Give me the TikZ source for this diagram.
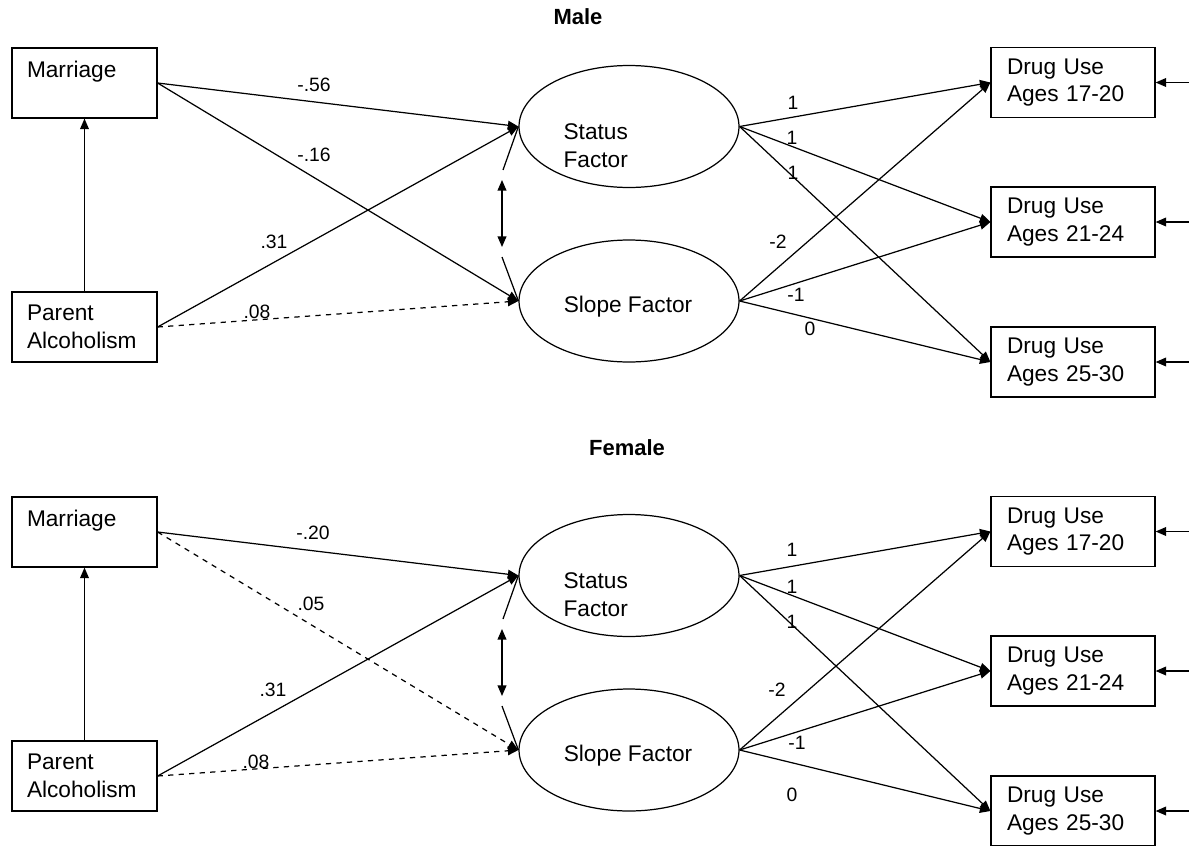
\documentclass[tikz,border=0pt]{standalone}
\usepackage{fontspec}
\setmainfont{Liberation Sans}
\usetikzlibrary{shapes.geometric,arrows.meta}

\begin{document}
\begin{tikzpicture}[x=0.02cm, y=-0.02cm, line width=0.7pt,
    >={Triangle[length=6pt,width=5pt]},
    obs/.style={draw, rectangle, inner xsep=0.3cm, inner ysep=0pt, text width=2.3cm,
      minimum height=1.4cm, align=left, font=\fontsize{12.9}{15.8}\selectfont},
    dru/.style={obs, inner xsep=0.32cm, text width=2.64cm},
    lat/.style={draw, ellipse, inner sep=0pt, minimum width=4.4cm, minimum height=2.44cm},
    txt/.style={align=left, inner sep=0pt, font=\fontsize{12.9}{15.8}\selectfont},
    coef/.style={inner sep=0pt, font=\fontsize{11}{13}\selectfont},
    ttl/.style={inner sep=0pt, font=\bfseries\fontsize{12.5}{15}\selectfont}]
      \def\pan{449}
      \useasboundingbox (0,0) rectangle (1189,845);
      %
      % Male
      \node[ttl] (male) at (578,17) {Male};
      \node[obs] (mar1) at (84.5,83) {Marriage\\\mbox{}};
      \node[obs] (par1) at (84.5,327) {Parent\\Alcoholism};
      \node[lat] (stat1) at (629,126.5) {};
      \node[txt, anchor=west] (stat1t) at (563,146) {Status\\Factor};
      \node[lat] (slope1) at (629,301) {};
      \node[txt] (slope1t) at (628,307) {Slope Factor};
      \node[dru] (d1a) at (1073,82.5) {Drug Use\\Ages 17-20};
      \node[dru] (d1b) at (1073,222) {Drug Use\\Ages 21-24};
      \node[dru] (d1c) at (1073,362) {Drug Use\\Ages 25-30};
      \coordinate (rt1a) at (1189,82.5);
      \coordinate (rt1b) at (1189,222);
      \coordinate (rt1c) at (1189,362);
      \coordinate (cv1a) at (503,170);
      \coordinate (cv1b) at (502,180);
      \coordinate (cv1c) at (502,247);
      \coordinate (cv1d) at (502,257);
      %
      \draw[->] (par1) -- (mar1);
      \draw[->] (mar1.east) -- (stat1.west);
      \draw[->] (mar1.east) -- (slope1.west);
      \draw[->] (par1.east) -- (stat1.west);
      \draw[->, dashed] (par1.east) -- (slope1.west);
      \draw (stat1.west) -- (cv1a);
      \draw[<->] (cv1b) -- (cv1c);
      \draw (cv1d) -- (slope1.west);
      \foreach \d in {d1a,d1b,d1c} {
        \draw[->] (stat1.east) -- (\d.west);
        \draw[->] (slope1.east) -- (\d.west);
      }
      \draw[->] (rt1a) -- (d1a.east);
      \draw[->] (rt1b) -- (d1b.east);
      \draw[->] (rt1c) -- (d1c.east);
      %
      \node[coef] (w56) at (314,85) {-.56};
      \node[coef] (w16) at (314,155) {-.16};
      \node[coef] (w31m) at (274,242) {.31};
      \node[coef] (w08m) at (257,312) {.08};
      \node[coef] (s1a) at (793,103) {1};
      \node[coef] (s1b) at (792,138) {1};
      \node[coef] (s1c) at (793,173) {1};
      \node[coef] (g1a) at (778,242) {-2};
      \node[coef] (g1b) at (796,295) {-1};
      \node[coef] (g1c) at (810,329) {0};
      %
      % Female
      \node[ttl] (female) at (627,448) {Female};
      \node[obs] (mar2) at (84.5,83+\pan) {Marriage\\\mbox{}};
      \node[obs] (par2) at (84.5,327+\pan) {Parent\\Alcoholism};
      \node[lat] (stat2) at (629,126.5+\pan) {};
      \node[txt, anchor=west] (stat2t) at (563,146+\pan) {Status\\Factor};
      \node[lat] (slope2) at (629,301+\pan) {};
      \node[txt] (slope2t) at (628,307+\pan) {Slope Factor};
      \node[dru] (d2a) at (1073,82.5+\pan) {Drug Use\\Ages 17-20};
      \node[dru] (d2b) at (1073,222+\pan) {Drug Use\\Ages 21-24};
      \node[dru] (d2c) at (1073,362+\pan) {Drug Use\\Ages 25-30};
      \coordinate (rt2a) at (1189,82.5+\pan);
      \coordinate (rt2b) at (1189,222+\pan);
      \coordinate (rt2c) at (1189,362+\pan);
      \coordinate (cv2a) at (503,170+\pan);
      \coordinate (cv2b) at (502,180+\pan);
      \coordinate (cv2c) at (502,247+\pan);
      \coordinate (cv2d) at (502,257+\pan);
      %
      \draw[->] (par2) -- (mar2);
      \draw[->] (mar2.east) -- (stat2.west);
      \draw[->, dashed] (mar2.east) -- (slope2.west);
      \draw[->] (par2.east) -- (stat2.west);
      \draw[->, dashed] (par2.east) -- (slope2.west);
      \draw (stat2.west) -- (cv2a);
      \draw[<->] (cv2b) -- (cv2c);
      \draw (cv2d) -- (slope2.west);
      \foreach \d in {d2a,d2b,d2c} {
        \draw[->] (stat2.east) -- (\d.west);
        \draw[->] (slope2.east) -- (\d.west);
      }
      \draw[->] (rt2a) -- (d2a.east);
      \draw[->] (rt2b) -- (d2b.east);
      \draw[->] (rt2c) -- (d2c.east);
      %
      \node[coef] (w20) at (313,533) {-.20};
      \node[coef] (w05) at (311,604) {.05};
      \node[coef] (w31f) at (273,690) {.31};
      \node[coef] (w08f) at (256,762) {.08};
      \node[coef] (s2a) at (792,550) {1};
      \node[coef] (s2b) at (792,587) {1};
      \node[coef] (s2c) at (792,622) {1};
      \node[coef] (g2a) at (777,690) {-2};
      \node[coef] (g2b) at (797,743) {-1};
      \node[coef] (g2c) at (792,795) {0};
      %
    \end{tikzpicture}
\end{document}
